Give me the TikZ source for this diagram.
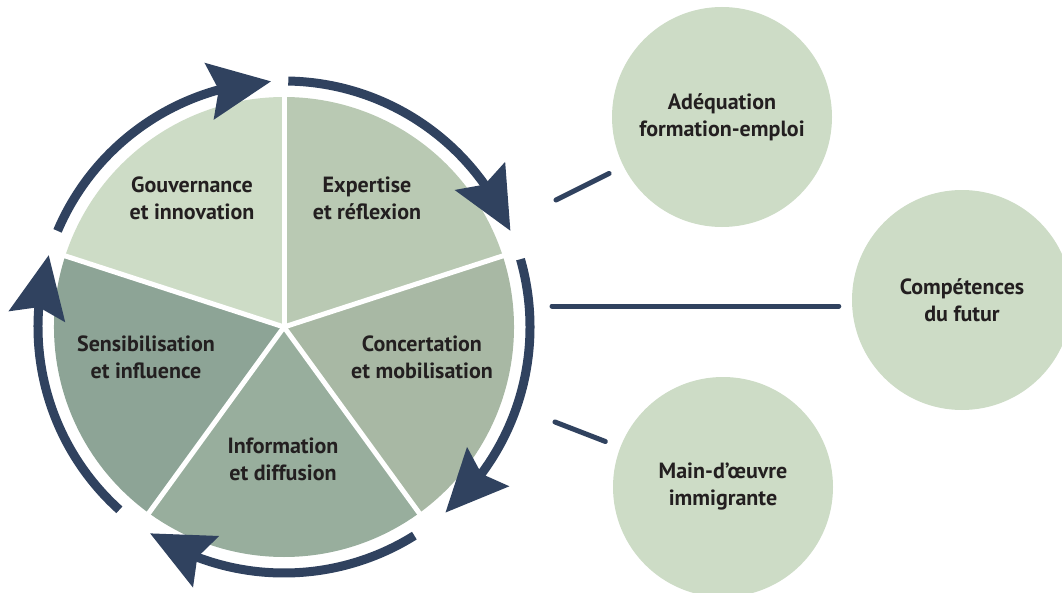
\documentclass[tikz,border=0pt]{standalone}
\usepackage{fontspec}
\setmainfont{PT Sans}
\usetikzlibrary{calc,positioning}
\usetikzlibrary{arrows.meta,bending}
\definecolor{navy}{HTML}{30425F}
\definecolor{ink}{HTML}{231F20}
\definecolor{sageA}{HTML}{CDDCC6}
\definecolor{sageB}{HTML}{B9C9B3}
\definecolor{sageC}{HTML}{A8B8A4}
\definecolor{sageD}{HTML}{98AE9D}
\definecolor{sageE}{HTML}{8DA496}
\tikzstyle{entry}=[font=\bfseries\fontsize{22}{27}\selectfont, text=ink, align=center]
\tikzstyle{topic}=[entry, circle, fill=sageA, minimum size=220pt, inner sep=0pt]
\tikzstyle{turn}=[draw=navy, line width=9pt, -{Stealth[length=62pt,width=56pt,inset=9pt,flex]}]
\tikzstyle{link}=[draw=navy, line width=5pt, line cap=round, shorten >=16pt]

\begin{document}
\begin{tikzpicture}[x=1pt,y=1pt]
\useasboundingbox (-284,-265) rectangle (778,327);
\coordinate (hub) at (0,0);

\foreach \a/\b/\c in {90/162/sageA, 18/90/sageB, -54/18/sageC, -126/-54/sageD, 162/234/sageE}
  \fill[\c] (hub) -- (\a:230) arc[start angle=\a, end angle=\b, radius=230] -- cycle;
\foreach \a in {90,18,-54,-126,162}
  \draw[white, line width=5pt] (hub) -- (\a:232);

\foreach \s/\e in {157/93, 89/23, 16/-49, -58/-123, 228/163}
  \draw[turn] (\s:246) arc[start angle=\s, end angle=\e, radius=246];

\node (gouv) [xshift=-92pt, yshift=129pt] at (hub) [entry] {Gouvernance\\et innovation};
\node (expert) [xshift=83pt, yshift=129pt] at (hub) [entry] {Expertise\\et réflexion};
\node (concert) [xshift=138pt, yshift=-30pt] at (hub) [entry] {Concertation\\et mobilisation};
\node (info) [xshift=-1pt, yshift=-132pt] at (hub) [entry] {Information\\et diffusion};
\node (sensib) [xshift=-138pt, yshift=-30pt] at (hub) [entry] {Sensibilisation\\et influence};

\node (adequ) [xshift=438pt, yshift=210pt] at (hub) [topic] {Adéquation\\formation-emploi};
\node (futur) [xshift=678pt, yshift=27pt] at (hub) [topic] {Compétences\\du futur};
\node (immig) [xshift=439pt, yshift=-160pt] at (hub) [topic] {Main-d’œuvre\\immigrante};

\coordinate (p1) at (272,127);
\coordinate (p2) at (268,21);
\coordinate (p3) at (271,-95);
\draw[link] (p1) -- (adequ);
\draw[link, shorten >=13pt] (p2) -- (p2 -| futur.west);
\draw[link] (p3) -- (immig);

\end{tikzpicture}
\end{document}
